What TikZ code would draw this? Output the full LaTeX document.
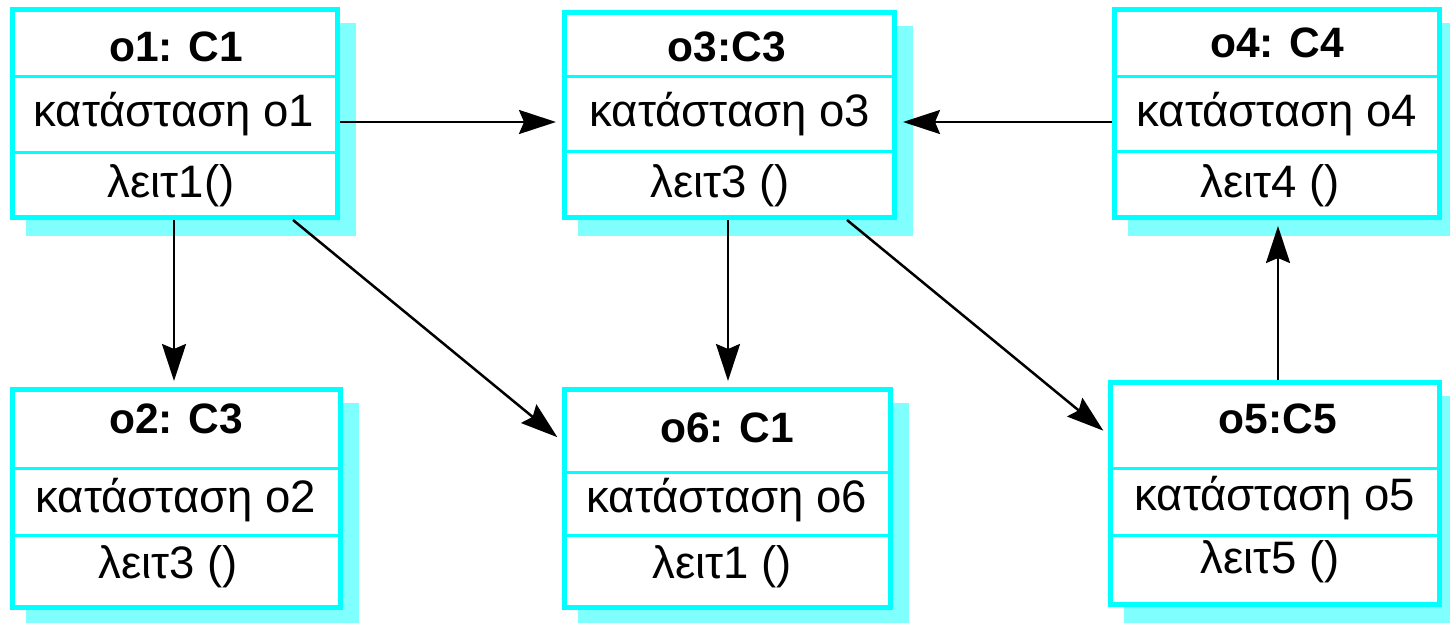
\documentclass[tikz,border=0pt]{standalone}
\usepackage{fontspec}
\setmainfont{Liberation Sans}
\usetikzlibrary{arrows.meta}
\definecolor{boxcyan}{RGB}{0,255,255}
\definecolor{shadowcyan}{RGB}{128,255,255}
\tikzset{
  objbox/.style={draw=boxcyan, fill=white, line width=5pt, rectangle, inner sep=0pt,
    preaction={fill=shadowcyan, draw=shadowcyan, transform canvas={shift={(16pt,-16pt)}}}},
  divider/.style={draw=boxcyan, line width=3pt},
  ttl/.style={anchor=base, inner sep=0pt, font=\fontsize{42.5pt}{50pt}\selectfont\bfseries},
  txt/.style={anchor=base, inner sep=0pt, font=\fontsize{45.5pt}{52pt}\selectfont},
  arr/.style={draw=black, line width=2.5pt, -{Stealth[length=37pt,width=24pt,inset=5pt]}, shorten >=6pt}
}
\begin{document}
\begin{tikzpicture}[x=1pt,y=-1pt]
\useasboundingbox (0,0) rectangle (1450,623);
% boxes
\node[objbox, minimum width=325pt, minimum height=208pt] (o1) at (175,113.5) {};
\node[objbox, minimum width=330pt, minimum height=205pt] (o3) at (729.5,115) {};
\node[objbox, minimum width=325pt, minimum height=208pt] (o4) at (1277,113.5) {};
\node[objbox, minimum width=328pt, minimum height=218pt] (o2) at (176.5,498.5) {};
\node[objbox, minimum width=326pt, minimum height=218pt] (o6) at (727.5,498.5) {};
\node[objbox, minimum width=329pt, minimum height=222pt] (o5) at (1275,493.5) {};
% dividers
\draw[divider] (o1.west |- 0,77) -- (o1.east |- 0,77);
\draw[divider] (o1.west |- 0,152) -- (o1.east |- 0,152);
\draw[divider] (o3.west |- 0,77) -- (o3.east |- 0,77);
\draw[divider] (o3.west |- 0,151) -- (o3.east |- 0,151);
\draw[divider] (o4.west |- 0,77) -- (o4.east |- 0,77);
\draw[divider] (o4.west |- 0,151) -- (o4.east |- 0,151);
\draw[divider] (o2.west |- 0,468) -- (o2.east |- 0,468);
\draw[divider] (o2.west |- 0,535) -- (o2.east |- 0,535);
\draw[divider] (o6.west |- 0,472) -- (o6.east |- 0,472);
\draw[divider] (o6.west |- 0,535) -- (o6.east |- 0,535);
\draw[divider] (o5.west |- 0,468) -- (o5.east |- 0,468);
\draw[divider] (o5.west |- 0,535) -- (o5.east |- 0,535);
% texts
\node[ttl] (o1t) at (176,62) {o1: C1};
\node[txt] (o1a) at (174,127) {κατάσταση o1};
\node[txt] (o1o) at (171,197) {λειτ1()};
\node[ttl] (o3t) at (727,62) {o3:C3};
\node[txt] (o3a) at (730,127) {κατάσταση o3};
\node[txt] (o3o) at (720,197) {λειτ3 ()};
\node[ttl] (o4t) at (1277,58) {o4: C4};
\node[txt] (o4a) at (1277,127) {κατάσταση o4};
\node[txt] (o4o) at (1270,197) {λειτ4 ()};
\node[ttl] (o2t) at (176,433) {o2: C3};
\node[txt] (o2a) at (176,512) {κατάσταση o2};
\node[txt] (o2o) at (168,578) {λειτ3 ()};
\node[ttl] (o6t) at (727,442) {o6: C1};
\node[txt] (o6a) at (727,512) {κατάσταση o6};
\node[txt] (o6o) at (722,578) {λειτ1 ()};
\node[ttl] (o5t) at (1278,433) {o5:C5};
\node[txt] (o5a) at (1275,510) {κατάσταση o5};
\node[txt] (o5o) at (1270,573) {λειτ5 ()};
% connectors
\draw[arr] ([yshift=-8.5pt]o1.east) -- ([yshift=-8.5pt]o1.east -| o3.west);
\draw[arr] ([yshift=-8.5pt]o4.west) -- ([yshift=-8.5pt]o4.west -| o3.east);
\draw[arr] ([xshift=-1pt]o1.south) -- ([xshift=-1pt]o1.south |- o2.north);
\draw[arr] ([xshift=-1.5pt]o3.south) -- ([xshift=-1.5pt]o3.south |- o6.north);
\draw[arr] ([xshift=1pt]o4.south |- o5.north) -- ([xshift=1pt]o4.south);
\draw[arr] ([xshift=118pt]o1.south) -- ([yshift=57.5pt]o6.west);
\draw[arr] ([xshift=117.5pt]o3.south) -- ([yshift=59pt]o5.west);
\end{tikzpicture}
\end{document}
